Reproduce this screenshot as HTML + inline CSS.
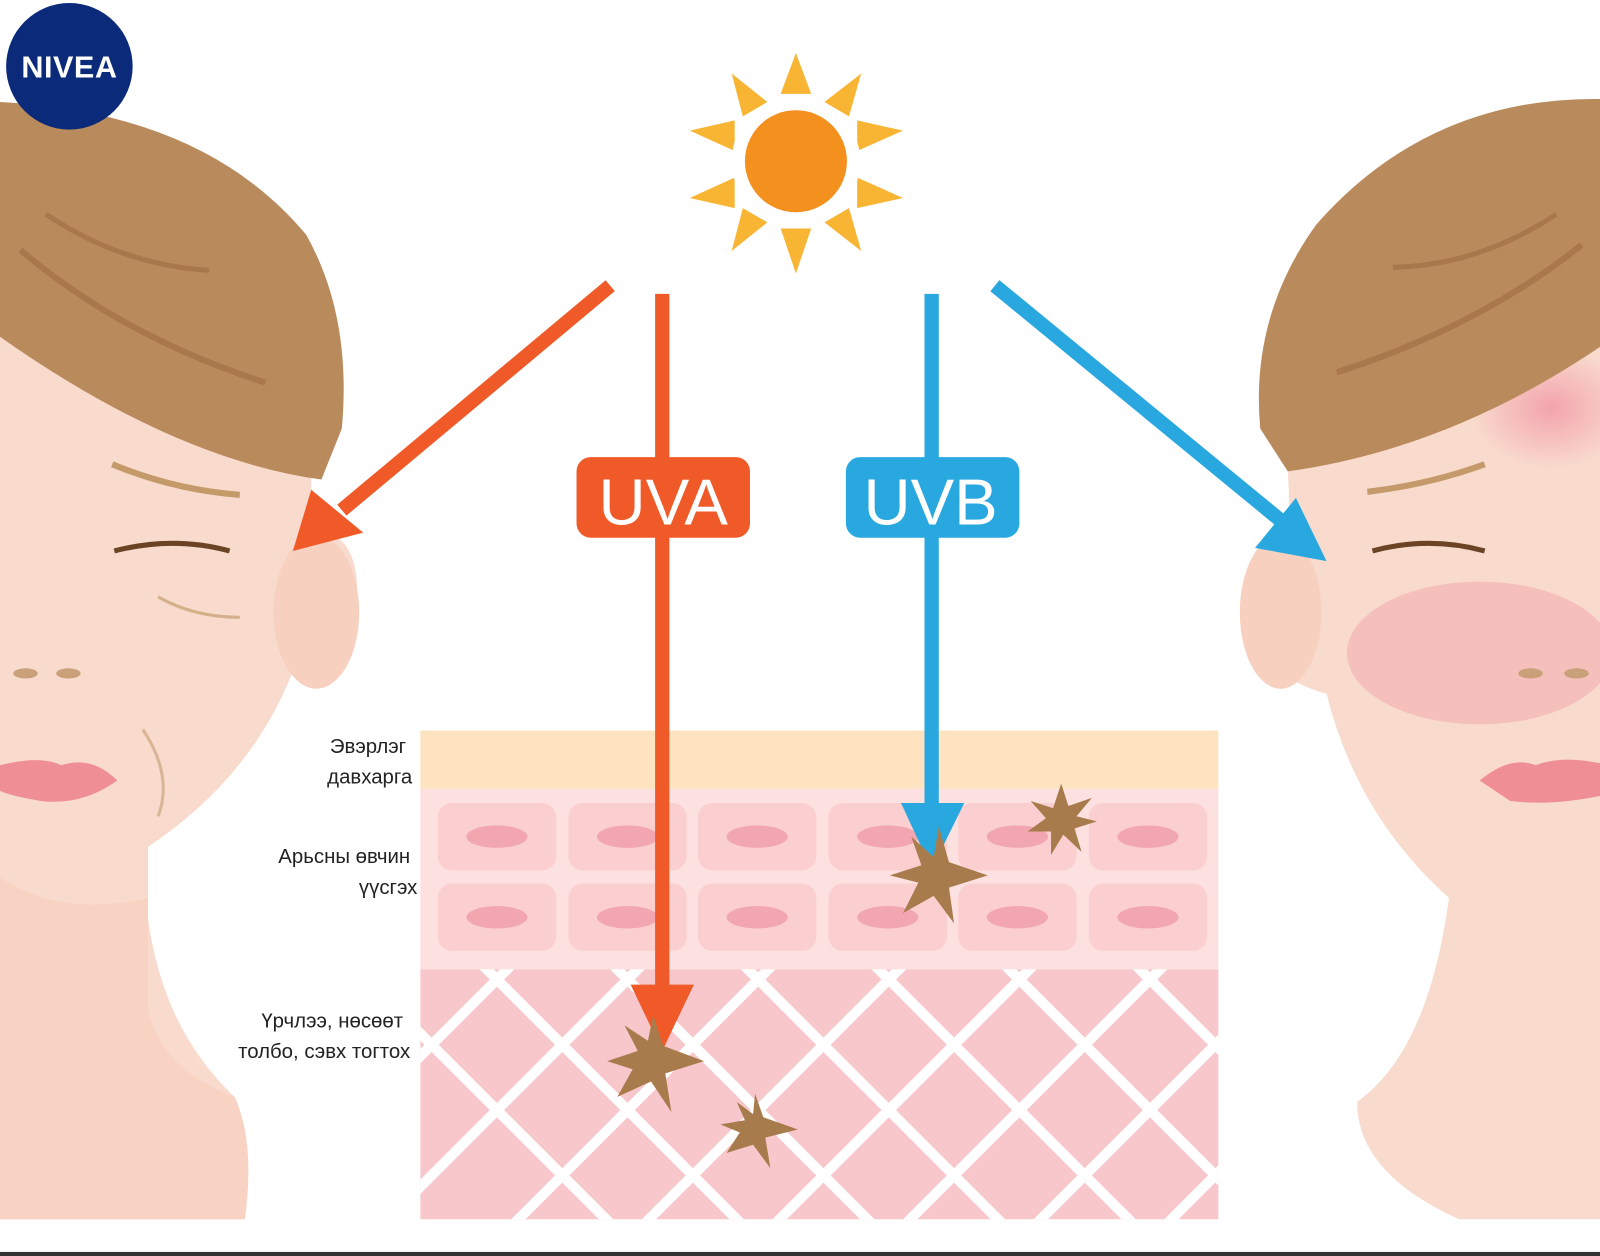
<!DOCTYPE html>
<html><head><meta charset="utf-8"><style>
html,body{margin:0;padding:0;background:#fff;width:1600px;height:1256px;overflow:hidden}
svg{display:block;position:absolute;left:0;top:0}
text{font-family:"Liberation Sans",sans-serif}
</style></head><body>
<svg width="1600" height="1256" viewBox="0 0 1568 1231" preserveAspectRatio="none" xmlns="http://www.w3.org/2000/svg">
<defs>
<clipPath id="derm"><rect x="412" y="950" width="782" height="245"/></clipPath>
<radialGradient id="blush" cx="0.5" cy="0.5" r="0.5"><stop offset="0" stop-color="#f08ca0" stop-opacity="0.7"/><stop offset="1" stop-color="#f08ca0" stop-opacity="0"/></radialGradient>
</defs>
<rect width="1568" height="1231" fill="#fff"/>

<!-- LEFT FACE -->
<path d="M0 300 L0 1195 L240 1195 Q250 1120 230 1075 Q160 1010 145 900 L145 830 Q250 760 290 650 Q340 630 350 580 Q350 520 305 520 L305 430 L0 300Z" fill="#f9dbcd"/>
<path d="M0 860 Q60 900 145 880 L145 990 Q160 1050 230 1075 Q250 1120 240 1195 L0 1195Z" fill="#f8d3c3"/>
<ellipse cx="310" cy="600" rx="42" ry="75" fill="#f7d0c0"/>
<path d="M0 100 Q200 110 300 230 Q345 310 335 420 L315 470 Q170 450 0 330Z" fill="#b98a5c"/>
<path d="M45 210 Q120 260 205 265" stroke="#a8784c" stroke-width="5" fill="none"/>
<path d="M20 245 Q120 330 260 375" stroke="#a8784c" stroke-width="6" fill="none"/>
<path d="M110 455 Q170 480 235 485" stroke="#c49a6a" stroke-width="6" fill="none"/>
<path d="M112 540 Q170 525 225 540" stroke="#6b4426" stroke-width="5" fill="none"/>
<path d="M155 585 Q190 605 235 605" stroke="#d4b08a" stroke-width="3" fill="none"/>
<ellipse cx="25" cy="660" rx="12" ry="5" fill="#c9a07a"/><ellipse cx="67" cy="660" rx="12" ry="5" fill="#c9a07a"/>
<path d="M0 750 Q40 740 60 750 Q90 740 115 765 Q80 790 40 785 Q10 780 0 775Z" fill="#ef8f95"/>
<path d="M140 715 Q170 760 155 800" stroke="#d8b594" stroke-width="3" fill="none"/>

<!-- RIGHT FACE -->
<path d="M1568 330 L1568 1195 L1430 1195 Q1330 1150 1330 1080 Q1400 1030 1420 880 Q1330 800 1300 680 Q1225 660 1218 580 Q1225 525 1265 525 L1262 460 L1568 330Z" fill="#f9dbcd"/>
<ellipse cx="1255" cy="600" rx="40" ry="75" fill="#f7d0c0"/>
<ellipse cx="1450" cy="640" rx="130" ry="70" fill="#f4b3b5" opacity="0.7"/>
<ellipse cx="1520" cy="400" rx="80" ry="60" fill="url(#blush)"/>
<path d="M1568 97 Q1400 95 1290 220 Q1225 310 1235 420 L1262 462 Q1420 440 1568 340Z" fill="#b98a5c"/>
<path d="M1365 262 Q1450 260 1525 210" stroke="#a8784c" stroke-width="5" fill="none"/>
<path d="M1310 365 Q1450 320 1550 240" stroke="#a8784c" stroke-width="6" fill="none"/>
<path d="M1340 482 Q1400 475 1455 455" stroke="#c49a6a" stroke-width="6" fill="none"/>
<path d="M1345 540 Q1400 525 1455 540" stroke="#6b4426" stroke-width="5" fill="none"/>
<ellipse cx="1500" cy="660" rx="12" ry="5" fill="#c9a07a"/><ellipse cx="1545" cy="660" rx="12" ry="5" fill="#c9a07a"/>
<path d="M1450 765 Q1480 740 1505 750 Q1530 740 1568 748 L1568 780 Q1520 790 1480 785Z" fill="#ef8f95"/>

<!-- NIVEA -->
<circle cx="68" cy="65" r="62" fill="#0c2a7a"/>
<text x="68" y="76" text-anchor="middle" font-size="30" font-weight="bold" fill="#fff" letter-spacing="0.5">NIVEA</text>

<!-- SUN -->
<g fill="#f8b534">
<polygon points="780,52 795,92 765,92"/>
<polygon points="780,268 795,224 765,224"/>
<polygon points="676,128 720,118 720,148"/>
<polygon points="885,128 840,118 840,148"/>
<polygon points="676,194 720,174 720,204"/>
<polygon points="885,194 840,174 840,204"/>
<polygon points="717,72 752,100 728,114"/>
<polygon points="844,72 808,100 832,114"/>
<polygon points="717,246 752,218 728,204"/>
<polygon points="844,246 808,218 832,204"/>
</g>
<circle cx="780" cy="158" r="63" fill="#fff"/>
<circle cx="780" cy="158" r="50" fill="#f4901e"/>

<!-- SKIN LAYERS -->
<rect x="412" y="716" width="782" height="57" fill="#fde3bf"/>
<rect x="412" y="773" width="782" height="177" fill="#fde0e0"/>
<g fill="#fbcfd0">
<rect x="429" y="787" width="116" height="66" rx="14"/><rect x="557" y="787" width="116" height="66" rx="14"/><rect x="684" y="787" width="116" height="66" rx="14"/><rect x="812" y="787" width="116" height="66" rx="14"/><rect x="939" y="787" width="116" height="66" rx="14"/><rect x="1067" y="787" width="116" height="66" rx="14"/>
<rect x="429" y="866" width="116" height="66" rx="14"/><rect x="557" y="866" width="116" height="66" rx="14"/><rect x="684" y="866" width="116" height="66" rx="14"/><rect x="812" y="866" width="116" height="66" rx="14"/><rect x="939" y="866" width="116" height="66" rx="14"/><rect x="1067" y="866" width="116" height="66" rx="14"/>
</g>
<g fill="#f2a7b0">
<ellipse cx="487" cy="820" rx="30" ry="11"/><ellipse cx="615" cy="820" rx="30" ry="11"/><ellipse cx="742" cy="820" rx="30" ry="11"/><ellipse cx="870" cy="820" rx="30" ry="11"/><ellipse cx="997" cy="820" rx="30" ry="11"/><ellipse cx="1125" cy="820" rx="30" ry="11"/>
<ellipse cx="487" cy="899" rx="30" ry="11"/><ellipse cx="615" cy="899" rx="30" ry="11"/><ellipse cx="742" cy="899" rx="30" ry="11"/><ellipse cx="870" cy="899" rx="30" ry="11"/><ellipse cx="997" cy="899" rx="30" ry="11"/><ellipse cx="1125" cy="899" rx="30" ry="11"/>
</g>
<rect x="412" y="950" width="782" height="245" fill="#f7c7cb"/>
<g clip-path="url(#derm)" stroke="#fff" stroke-width="10">
<line x1="103" y1="704" x2="703" y2="1304"/><line x1="231" y1="704" x2="831" y2="1304"/><line x1="359" y1="704" x2="959" y2="1304"/><line x1="487" y1="704" x2="1087" y2="1304"/><line x1="615" y1="704" x2="1215" y2="1304"/><line x1="743" y1="704" x2="1343" y2="1304"/><line x1="871" y1="704" x2="1471" y2="1304"/><line x1="999" y1="704" x2="1599" y2="1304"/><line x1="1127" y1="704" x2="1727" y2="1304"/><line x1="1255" y1="704" x2="1855" y2="1304"/>
<line x1="871" y1="704" x2="271" y2="1304"/><line x1="999" y1="704" x2="399" y2="1304"/><line x1="1127" y1="704" x2="527" y2="1304"/><line x1="1255" y1="704" x2="655" y2="1304"/><line x1="1383" y1="704" x2="783" y2="1304"/><line x1="1511" y1="704" x2="911" y2="1304"/><line x1="1639" y1="704" x2="1039" y2="1304"/><line x1="1767" y1="704" x2="1167" y2="1304"/><line x1="1895" y1="704" x2="1295" y2="1304"/><line x1="743" y1="704" x2="143" y2="1304"/>
</g>

<!-- LABELS -->
<g font-size="20" fill="#222" text-anchor="end">
<text x="398" y="738">Эвэрлэг</text><text x="404" y="768">давхарга</text>
<text x="402" y="846">Арьсны өвчин</text><text x="409" y="876">үүсгэх</text>
<text x="395" y="1007">Үрчлээ, нөсөөт</text><text x="402" y="1037">толбо, сэвх тогтох</text>
</g>

<!-- ARROWS -->
<g stroke-width="14" fill="none">
<line x1="598" y1="280" x2="335" y2="500" stroke="#f05a28"/>
<line x1="649" y1="288" x2="649" y2="975" stroke="#f05a28"/>
<line x1="913" y1="288" x2="913" y2="795" stroke="#29a8e0"/>
<line x1="975" y1="280" x2="1255" y2="510" stroke="#29a8e0"/>
</g>
<polygon points="287,540 305,480 356,522" fill="#f05a28"/>
<polygon points="618,965 680,965 649,1030" fill="#f05a28"/>
<polygon points="883,787 945,787 913,852" fill="#29a8e0"/>
<polygon points="1300,550 1270,488 1230,537" fill="#29a8e0"/>

<rect x="565" y="448" width="170" height="79" rx="14" fill="#f05a28"/>
<text x="650" y="514" text-anchor="middle" font-family="Liberation Serif,serif" font-size="64" fill="#fff">UVA</text>
<rect x="829" y="448" width="170" height="79" rx="14" fill="#29a8e0"/>
<text x="912" y="514" text-anchor="middle" font-family="Liberation Serif,serif" font-size="64" fill="#fff">UVB</text>

<!-- STARS -->
<g fill="#a87b4d">
<polygon points="1040,768 1047,790 1070,782 1055,800 1075,805 1053,812 1060,835 1042,818 1030,838 1030,815 1007,815 1025,802 1010,785 1032,792"/>
<polygon points="920,810 930,845 968,858 930,870 935,905 915,878 885,895 900,865 872,858 903,848 893,820 915,840"/>
<polygon points="640,995 650,1025 690,1040 652,1052 658,1090 638,1060 605,1075 620,1048 595,1040 625,1030 612,1005 635,1020"/>
<polygon points="740,1072 748,1095 782,1107 750,1115 755,1145 738,1122 712,1130 725,1110 706,1102 730,1098 722,1080 738,1092"/>
</g>

<rect x="0" y="1227" width="1568" height="4" fill="#333"/>
</svg>
</body></html>
